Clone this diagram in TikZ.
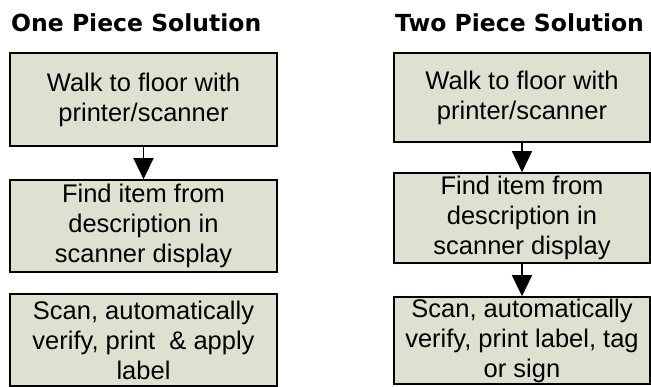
\documentclass[tikz,border=0pt]{standalone}
\usepackage{fontspec}
\setmainfont{Liberation Sans}
\newfontfamily\headfont{DejaVu Sans}
\usetikzlibrary{arrows.meta}

\begin{document}
\begin{tikzpicture}[
	x=1pt,
	y=-1pt,
	head/.style={
		anchor=base west,
		inner sep=0pt,
		font=\headfont\bfseries\fontsize{23.5}{28}\selectfont
	},
	box/.style={
		rectangle,
		draw=black,
		line width=1.6pt,
		align=center,
		fill={rgb,255:red,221;green,226;blue,208},
		inner sep=0pt,
		font=\fontsize{25.5}{30}\selectfont
	},
	link/.style={
		line width=1.3pt,
		-{Triangle[length=21pt,width=20pt]}
	},
]

\useasboundingbox (0,0) rectangle (651,387);

\node[head] (one_title) at (11, 32) {One Piece Solution};
\node[head] (two_title) at (395, 32) {Two Piece Solution};

\node[box, minimum width=267pt, minimum height=93pt] (one_walk) at (143.5, 99.5) {Walk to floor with\\printer/scanner};
\node[box, minimum width=267pt, minimum height=92pt] (one_find) at (143.5, 226) {Find item from\\description in\\scanner display};
\node[box, minimum width=267pt, minimum height=92pt] (one_scan) at (143.5, 340) {Scan, automatically\\verify, print \ \& apply\\label};

\node[box, minimum width=256pt, minimum height=89pt] (two_walk) at (522, 97.5) {Walk to floor with\\printer/scanner};
\node[box, minimum width=256pt, minimum height=90pt] (two_find) at (522, 218) {Find item from\\description in\\scanner display};
\node[box, minimum width=256pt, minimum height=87pt] (two_scan) at (522, 340.5) {Scan, automatically\\verify, print label, tag\\or sign};

\draw[link] (one_walk) -- (one_find);

\draw[link] (two_walk) -- (two_find);
\draw[link] (two_find) -- (two_scan);

\end{tikzpicture}
\end{document}
